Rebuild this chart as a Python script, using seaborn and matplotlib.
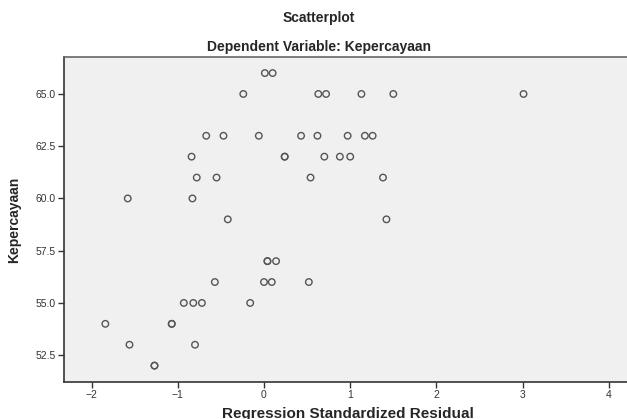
import pandas as pd
import seaborn as sns
import matplotlib.pyplot as plt

# Standardized residuals and the dependent variable
residual = [0.01, 0.10,
            -0.24, 0.63, 0.72, 1.13, 1.50, 3.01,
            -0.67, -0.47, -0.06, 0.43, 0.62, 0.97, 1.17, 1.26,
            -0.84, 0.24, 0.24, 0.70, 0.88, 1.00,
            -0.78, -0.55, 0.54, 1.38,
            -1.58, -0.83,
            -0.42, 1.42,
            0.04, 0.04, 0.14,
            -0.57, 0.00, 0.09, 0.52,
            -0.93, -0.82, -0.72, -0.16,
            -1.84, -1.07, -1.07,
            -1.56, -0.80,
            -1.27, -1.27]
kepercayaan = [66, 66,
               65, 65, 65, 65, 65, 65,
               63, 63, 63, 63, 63, 63, 63, 63,
               62, 62, 62, 62, 62, 62,
               61, 61, 61, 61,
               60, 60,
               59, 59,
               57, 57, 57,
               56, 56, 56, 56,
               55, 55, 55, 55,
               54, 54, 54,
               53, 53,
               52, 52]

df = pd.DataFrame({"Regression Standardized Residual": residual,
                   "Kepercayaan": kepercayaan})

sns.set_style("white")
plt.rcParams['font.family'] = ['Liberation Sans', 'DejaVu Sans']

fig = plt.figure(figsize=(6.27, 4.19), dpi=100)
ax = fig.add_axes([0.102, 0.088, 0.898, 0.776])
ax.set_facecolor('#f0f0f0')

sns.scatterplot(data=df, x="Regression Standardized Residual", y="Kepercayaan",
                ax=ax, marker='o', s=22, facecolor='none',
                edgecolor='#555555', linewidth=1.0)

ax.set_xlim(-2.32, 4.21)
ax.set_ylim(51.21, 66.77)
ax.set_xticks([-2, -1, 0, 1, 2, 3, 4])
ax.set_yticks([52.5, 55.0, 57.5, 60.0, 62.5, 65.0])
ax.set_yticklabels(['52.5', '55.0', '57.5', '60.0', '62.5', '65.0'])

ax.tick_params(axis='both', length=4, width=1, color='#333333',
               labelsize=7.5, labelcolor='#333333', pad=2, bottom=True, left=True)
for side in ['left', 'bottom']:
    ax.spines[side].set_color('#333333')
    ax.spines[side].set_linewidth(1.2)
ax.spines['top'].set_color('#666666')
ax.spines['top'].set_linewidth(1.2)
ax.spines['right'].set_visible(False)

ax.set_xlabel("Regression Standardized Residual", fontsize=11, fontweight='bold',
              va='top')
ax.xaxis.set_label_coords(0.505, -0.075)
ax.set_ylabel("Kepercayaan", fontsize=10, fontweight='bold', labelpad=10)

fig.text(0.509, 0.957, "Scatterplot", ha='center', va='center',
         fontsize=10, fontweight='bold')
fig.text(0.509, 0.887, "Dependent Variable: Kepercayaan", ha='center',
         va='center', fontsize=10, fontweight='bold')

fig.savefig("out.png", dpi=100)
